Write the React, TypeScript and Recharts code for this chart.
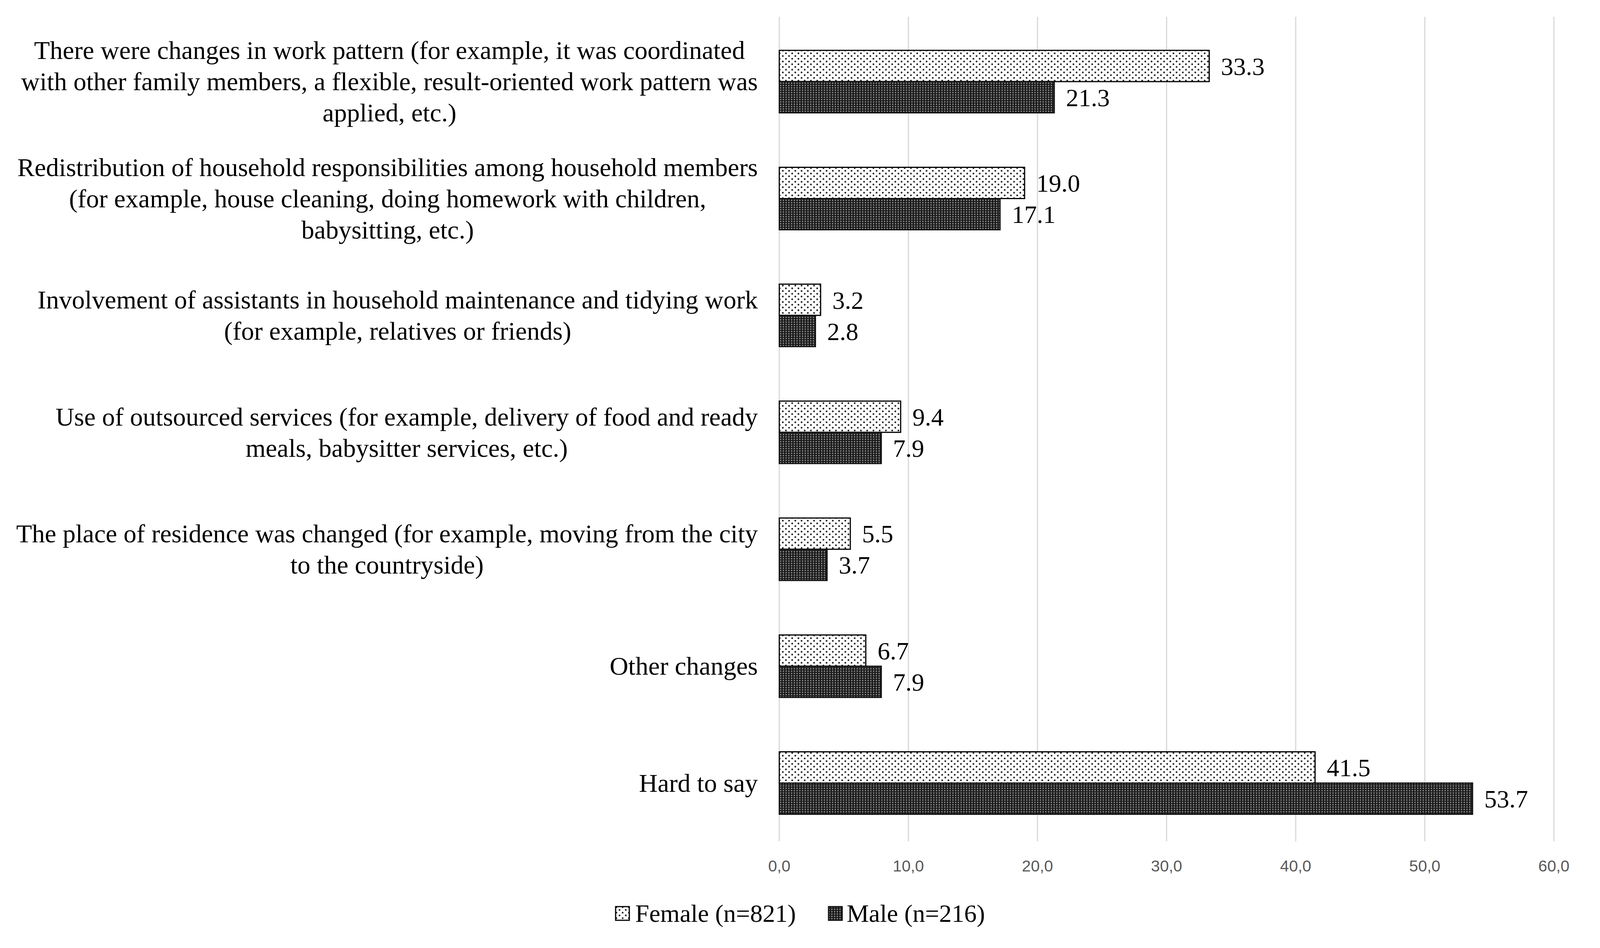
import React from 'react';
import { BarChart, Bar, XAxis, YAxis, CartesianGrid, Legend, LabelList } from 'recharts';

// category labels, already broken into the lines used in the figure
const categoryLines: string[][] = [
  [
    'There were changes in work pattern (for example, it was coordinated',
    'with other family members, a flexible, result-oriented work pattern was',
    'applied, etc.)',
  ],
  [
    'Redistribution of household responsibilities among household members',
    '(for example, house cleaning, doing homework with children,',
    'babysitting, etc.)',
  ],
  [
    'Involvement of assistants in household maintenance and tidying work',
    '(for example, relatives or friends)',
  ],
  [
    'Use of outsourced services (for example, delivery of food and ready',
    'meals, babysitter services, etc.)',
  ],
  [
    'The place of residence was changed (for example, moving from the city',
    'to the countryside)',
  ],
  ['Other changes'],
  ['Hard to say'],
];

const female = [33.3, 19.0, 3.2, 9.4, 5.5, 6.7, 41.5];
const male = [21.3, 17.1, 2.8, 7.9, 3.7, 7.9, 53.7];

const xTicks = [0, 10, 20, 30, 40, 50, 60];

const seriesNames = ['Female (n=821)', 'Male (n=216)'];

const data = categoryLines.map((lines, i) => ({
  name: lines.join(' '),
  female: female[i],
  male: male[i],
}));

const linesByName: Record<string, string[]> = {};
categoryLines.forEach((lines) => {
  linesByName[lines.join(' ')] = lines;
});

// the viewport is capped at 4096px wide, so the layout is laid out for that
const W = 4096;
const H = 2428;

const SERIF = '"Liberation Serif", "Times New Roman", serif';
const LABEL_SIZE = 66;
const LINE_H = 80;

let ctx: CanvasRenderingContext2D | null = null;
const textWidth = (s: string) => {
  if (!ctx) {
    ctx = document.createElement('canvas').getContext('2d');
  }
  if (!ctx) return s.length * LABEL_SIZE * 0.45;
  ctx.font = `${LABEL_SIZE}px "Liberation Serif"`;
  return ctx.measureText(s).width;
};

// lines are centred against each other, block is right-aligned to the axis
function CategoryTick(props: any) {
  const { x, y, payload } = props;
  const lines = linesByName[payload.value] || [payload.value];
  const blockW = Math.max(...lines.map(textWidth));
  const cx = x - blockW / 2;
  const y0 = y - ((lines.length - 1) * LINE_H) / 2;
  return (
    <g>
      {lines.map((line, i) => (
        <text
          key={i}
          x={cx}
          y={y0 + i * LINE_H}
          textAnchor="middle"
          dominantBaseline="central"
          fontFamily={SERIF}
          fontSize={LABEL_SIZE}
          fill="#000"
        >
          {line}
        </text>
      ))}
    </g>
  );
}

const renderLegend = () => (
  <div
    style={{
      display: 'flex',
      justifyContent: 'center',
      alignItems: 'center',
      height: 90,
      fontFamily: SERIF,
      fontSize: 64,
      color: '#000',
    }}
  >
    <svg width={40} height={40} style={{ marginRight: 12 }}>
      <rect x={2} y={2} width={35} height={35} fill="url(#femaleDots)" stroke="#000" strokeWidth={3} />
    </svg>
    <span>{seriesNames[0]}</span>
    <svg width={40} height={40} style={{ marginLeft: 82, marginRight: 8 }}>
      <rect x={2} y={2} width={35} height={35} fill="url(#maleDots)" stroke="#111" strokeWidth={3} />
    </svg>
    <span>{seriesNames[1]}</span>
  </div>
);

export default function App() {
  return (
    <div>
      <style>{'body{margin:0;background:#fff}'}</style>
      <BarChart
        width={W}
        height={H}
        data={data}
        layout="vertical"
        margin={{ top: 59, right: 118, bottom: 43, left: 0 }}
        barGap={0}
      >
        <defs>
          <pattern id="femaleDots" width={16} height={14} patternUnits="userSpaceOnUse">
            <rect width={16} height={14} fill="#fff" />
            <circle cx={4} cy={3.5} r={2.3} fill="#222" />
            <circle cx={12} cy={10.5} r={2.3} fill="#222" />
          </pattern>
          <pattern id="maleDots" width={7} height={6} patternUnits="userSpaceOnUse">
            <rect width={7} height={6} fill="#1c1c1c" />
            <circle cx={3.5} cy={3} r={1.8} fill="#9a9a9a" />
          </pattern>
        </defs>
        {/* grid lines run a little above the first category, as in the figure */}
        <CartesianGrid horizontal={false} stroke="#d9d9d9" strokeWidth={3} y={43} height={2112} />
        <XAxis
          type="number"
          domain={[0, 60]}
          ticks={xTicks}
          height={140}
          axisLine={false}
          tickLine={false}
          tickSize={0}
          tickMargin={48}
          tickFormatter={(v: number) => v.toFixed(1).replace('.', ',')}
          tick={{ fill: '#595959', fontSize: 41, fontFamily: '"Liberation Sans Narrow", "Liberation Sans", sans-serif' }}
        />
        <YAxis
          type="category"
          dataKey="name"
          width={1995}
          axisLine={false}
          tickLine={false}
          tickSize={0}
          tickMargin={55}
          interval={0}
          tick={<CategoryTick />}
        />
        <Legend
          verticalAlign="bottom"
          content={renderLegend}
          wrapperStyle={{ left: 0, width: W }}
        />
        <Bar
          dataKey="female"
          name={seriesNames[0]}
          barSize={80}
          fill="url(#femaleDots)"
          stroke="#000"
          strokeWidth={3}
          isAnimationActive={false}
        >
          <LabelList
            dataKey="female"
            position="right"
            offset={30}
            formatter={(v: any) => Number(v).toFixed(1)}
            style={{ fontFamily: SERIF, fontSize: 64, fill: '#000' }}
          />
        </Bar>
        <Bar
          dataKey="male"
          name={seriesNames[1]}
          barSize={80}
          fill="url(#maleDots)"
          stroke="#111"
          strokeWidth={3}
          isAnimationActive={false}
        >
          <LabelList
            dataKey="male"
            position="right"
            offset={30}
            formatter={(v: any) => Number(v).toFixed(1)}
            style={{ fontFamily: SERIF, fontSize: 64, fill: '#000' }}
          />
        </Bar>
      </BarChart>
    </div>
  );
}
